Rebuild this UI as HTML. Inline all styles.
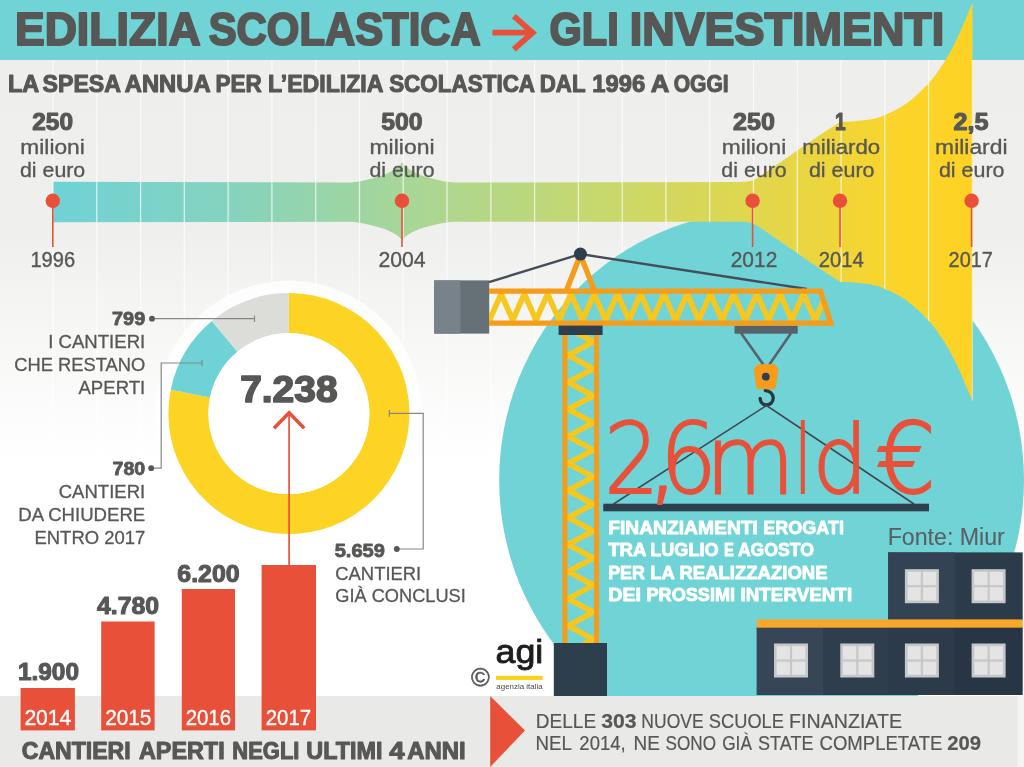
<!DOCTYPE html>
<html lang="it"><head><meta charset="utf-8"><title>Edilizia scolastica - Gli investimenti</title>
<style>
html,body{margin:0;padding:0;background:#fff;}
body{width:1024px;height:767px;overflow:hidden;}
svg{display:block;font-family:"Liberation Sans",sans-serif;}
</style></head><body>
<svg width="1024" height="767" viewBox="0 0 1024 767">
<defs>
<linearGradient id="bg" gradientUnits="userSpaceOnUse" x1="0" y1="0" x2="0" y2="767">
<stop offset="0" stop-color="#eeefec"/><stop offset="0.3" stop-color="#eff0ed"/><stop offset="0.44" stop-color="#f7f7f6"/><stop offset="0.6" stop-color="#ffffff"/><stop offset="1" stop-color="#ffffff"/>
</linearGradient>
<linearGradient id="band" gradientUnits="userSpaceOnUse" x1="53" y1="0" x2="972" y2="0">
<stop offset="0" stop-color="#6fd2d6"/><stop offset="0.2" stop-color="#86d3bd"/><stop offset="0.38" stop-color="#a7d698"/>
<stop offset="0.6" stop-color="#c8d86c"/><stop offset="0.8" stop-color="#e6d646"/><stop offset="0.93" stop-color="#fcd428"/><stop offset="1" stop-color="#fdd224"/>
</linearGradient>
<clipPath id="clipmain"><rect x="0" y="0" width="1024" height="696"/></clipPath>
</defs>
<rect width="1024" height="767" fill="#eeefec"/>
<rect width="1024" height="767" fill="url(#bg)"/>
<rect width="1024" height="60" fill="#70d4d6"/>
<path d="M53.0 60V696M96.8 60V696M140.6 60V696M184.3 60V696M228.1 60V696M271.9 60V696M315.7 60V696M359.5 60V696M403.2 60V696M447.0 60V696M490.8 60V696M534.6 60V696M578.4 60V696M622.2 60V696M665.9 60V696M709.7 60V696M753.5 60V696M797.3 60V696M841.1 60V696M884.8 60V696M928.6 60V696M972.4 60V696" stroke="#ffffff" stroke-width="1.3" fill="none" opacity="0.7"/>
<ellipse cx="761.6" cy="480" rx="262.4" ry="268.5" fill="#70d4d6" clip-path="url(#clipmain)"/>
<clipPath id="clipband"><path d="M53 181.8 L345 182.5 C358 182.5 362 180.5 368 179.5 C385 176 396 170 402 162.5 C408 170 419 176 436 179.5 C442 180.5 446 182.5 459 182.5 L740 182 C742.0 181.8 747.8 182.2 752.0 180.6 C756.2 179.0 758.9 176.9 765.4 172.6 C771.9 168.3 782.3 160.8 790.8 155.0 C799.3 149.2 808.0 143.0 816.2 137.5 C824.5 132.0 836.3 124.4 840.3 121.8 C842.6 121.7 849.1 121.7 854.4 121.2 C859.7 120.7 866.9 120.0 872.0 119.0 C877.1 118.0 879.4 117.4 884.9 114.9 C890.4 112.4 898.0 109.4 905.2 104.2 C912.4 99.0 921.6 90.7 928.0 83.9 C934.4 77.1 938.6 70.7 943.3 63.5 C948.0 56.3 952.2 48.3 956.0 40.7 C959.8 33.1 963.5 24.2 966.2 17.8 C969.0 11.4 971.5 5.1 972.5 2.5 L972.5 401.3 C971.5 398.8 969.0 392.4 966.2 386.0 C963.5 379.6 959.8 370.7 956.0 363.1 C952.2 355.5 948.0 347.5 943.3 340.3 C938.6 333.1 934.4 326.7 928.0 319.9 C921.6 313.1 912.4 304.8 905.2 299.6 C898.0 294.4 890.4 291.4 884.9 288.9 C879.4 286.4 877.1 285.9 872.0 284.8 C866.9 283.8 859.7 283.1 854.4 282.6 C849.1 282.1 842.6 282.1 840.3 282.0 C836.3 279.4 824.5 271.8 816.2 266.3 C808.0 260.8 799.3 254.7 790.8 248.8 C782.3 243.0 771.9 235.5 765.4 231.2 C758.9 226.9 756.2 224.8 752.0 223.2 C747.8 221.6 742.0 222.0 740.0 221.8 L740 221.8 L459 221.8 C446 221.8 442 223.5 436 224.5 C419 228 408 233 402 240 C396 233 385 228 368 224.5 C362 223.5 358 221.8 345 221.8 L53 222.3 Z"/></clipPath>
<path d="M53 181.8 L345 182.5 C358 182.5 362 180.5 368 179.5 C385 176 396 170 402 162.5 C408 170 419 176 436 179.5 C442 180.5 446 182.5 459 182.5 L740 182 C742.0 181.8 747.8 182.2 752.0 180.6 C756.2 179.0 758.9 176.9 765.4 172.6 C771.9 168.3 782.3 160.8 790.8 155.0 C799.3 149.2 808.0 143.0 816.2 137.5 C824.5 132.0 836.3 124.4 840.3 121.8 C842.6 121.7 849.1 121.7 854.4 121.2 C859.7 120.7 866.9 120.0 872.0 119.0 C877.1 118.0 879.4 117.4 884.9 114.9 C890.4 112.4 898.0 109.4 905.2 104.2 C912.4 99.0 921.6 90.7 928.0 83.9 C934.4 77.1 938.6 70.7 943.3 63.5 C948.0 56.3 952.2 48.3 956.0 40.7 C959.8 33.1 963.5 24.2 966.2 17.8 C969.0 11.4 971.5 5.1 972.5 2.5 L972.5 401.3 C971.5 398.8 969.0 392.4 966.2 386.0 C963.5 379.6 959.8 370.7 956.0 363.1 C952.2 355.5 948.0 347.5 943.3 340.3 C938.6 333.1 934.4 326.7 928.0 319.9 C921.6 313.1 912.4 304.8 905.2 299.6 C898.0 294.4 890.4 291.4 884.9 288.9 C879.4 286.4 877.1 285.9 872.0 284.8 C866.9 283.8 859.7 283.1 854.4 282.6 C849.1 282.1 842.6 282.1 840.3 282.0 C836.3 279.4 824.5 271.8 816.2 266.3 C808.0 260.8 799.3 254.7 790.8 248.8 C782.3 243.0 771.9 235.5 765.4 231.2 C758.9 226.9 756.2 224.8 752.0 223.2 C747.8 221.6 742.0 222.0 740.0 221.8 L740 221.8 L459 221.8 C446 221.8 442 223.5 436 224.5 C419 228 408 233 402 240 C396 233 385 228 368 224.5 C362 223.5 358 221.8 345 221.8 L53 222.3 Z" fill="url(#band)"/>
<path d="M53.0 60V696M96.8 60V696M140.6 60V696M184.3 60V696M228.1 60V696M271.9 60V696M315.7 60V696M359.5 60V696M403.2 60V696M447.0 60V696M490.8 60V696M534.6 60V696M578.4 60V696M622.2 60V696M665.9 60V696M709.7 60V696M753.5 60V696M797.3 60V696M841.1 60V696M884.8 60V696M928.6 60V696M972.4 60V696" stroke="#ffffff" stroke-width="1.3" fill="none" opacity="0.7" clip-path="url(#clipband)"/>
<text y="45.05" font-size="46.80" font-weight="bold" fill="#575756" stroke="#575756" stroke-width="2.11" stroke-linejoin="round"><tspan x="14.91" textLength="184.17" lengthAdjust="spacingAndGlyphs">EDILIZIA</tspan> <tspan x="208.71" textLength="272.07" lengthAdjust="spacingAndGlyphs">SCOLASTICA</tspan></text>
<text y="45.05" font-size="46.80" font-weight="bold" fill="#575756" stroke="#575756" stroke-width="2.11" stroke-linejoin="round"><tspan x="549.51" textLength="69.27" lengthAdjust="spacingAndGlyphs">GLI</tspan> <tspan x="629.71" textLength="314.57" lengthAdjust="spacingAndGlyphs">INVESTIMENTI</tspan></text>
<path d="M492.4 32.7H533 M513.8 16.1L532.6 32.7L513.8 49.3" stroke="#e8503a" stroke-width="5.8" fill="none" stroke-linejoin="miter"/>
<text y="92.05" font-size="24.35" font-weight="bold" fill="#575756" stroke="#575756" stroke-width="1.10" stroke-linejoin="round"><tspan x="8.03" textLength="30.34" lengthAdjust="spacingAndGlyphs">LA</tspan> <tspan x="42.53" textLength="77.64" lengthAdjust="spacingAndGlyphs">SPESA</tspan> <tspan x="124.73" textLength="84.94" lengthAdjust="spacingAndGlyphs">ANNUA</tspan> <tspan x="215.53" textLength="46.24" lengthAdjust="spacingAndGlyphs">PER</tspan> <tspan x="267.93" textLength="114.64" lengthAdjust="spacingAndGlyphs">L’EDILIZIA</tspan> <tspan x="389.13" textLength="145.14" lengthAdjust="spacingAndGlyphs">SCOLASTICA</tspan> <tspan x="539.73" textLength="45.44" lengthAdjust="spacingAndGlyphs">DAL</tspan> <tspan x="592.33" textLength="52.94" lengthAdjust="spacingAndGlyphs">1996</tspan> <tspan x="650.83" textLength="17.64" lengthAdjust="spacingAndGlyphs">A</tspan> <tspan x="673.63" textLength="55.04" lengthAdjust="spacingAndGlyphs">OGGI</tspan></text>
<text x="32.21" y="130.23" font-size="23.13" font-weight="bold" fill="#575756" stroke="#575756" stroke-width="1.04" stroke-linejoin="round" textLength="40.77" lengthAdjust="spacingAndGlyphs">250</text>
<text x="20.34" y="154.43" font-size="20.80" fill="#575756" stroke="#575756" stroke-width="0.33" stroke-linejoin="round" textLength="64.52" lengthAdjust="spacingAndGlyphs">milioni</text>
<text x="19.94" y="176.63" font-size="20.80" fill="#575756" stroke="#575756" stroke-width="0.33" stroke-linejoin="round" textLength="65.32" lengthAdjust="spacingAndGlyphs">di euro</text>
<text x="381.36" y="130.23" font-size="23.13" font-weight="bold" fill="#575756" stroke="#575756" stroke-width="1.04" stroke-linejoin="round" textLength="41.27" lengthAdjust="spacingAndGlyphs">500</text>
<text x="369.44" y="154.43" font-size="20.80" fill="#575756" stroke="#575756" stroke-width="0.33" stroke-linejoin="round" textLength="65.12" lengthAdjust="spacingAndGlyphs">milioni</text>
<text x="369.44" y="176.63" font-size="20.80" fill="#575756" stroke="#575756" stroke-width="0.33" stroke-linejoin="round" textLength="65.12" lengthAdjust="spacingAndGlyphs">di euro</text>
<text x="733.06" y="130.23" font-size="23.13" font-weight="bold" fill="#575756" stroke="#575756" stroke-width="1.04" stroke-linejoin="round" textLength="41.87" lengthAdjust="spacingAndGlyphs">250</text>
<text x="721.74" y="154.43" font-size="20.80" fill="#575756" stroke="#575756" stroke-width="0.33" stroke-linejoin="round" textLength="64.52" lengthAdjust="spacingAndGlyphs">milioni</text>
<text x="721.39" y="176.63" font-size="20.80" fill="#575756" stroke="#575756" stroke-width="0.33" stroke-linejoin="round" textLength="65.22" lengthAdjust="spacingAndGlyphs">di euro</text>
<text x="835.06" y="130.28" font-size="23.13" font-weight="bold" fill="#575756" stroke="#575756" stroke-width="1.04" stroke-linejoin="round" textLength="10.67" lengthAdjust="spacingAndGlyphs">1</text>
<text x="802.34" y="154.43" font-size="20.80" fill="#575756" stroke="#575756" stroke-width="0.33" stroke-linejoin="round" textLength="77.82" lengthAdjust="spacingAndGlyphs">miliardo</text>
<text x="808.94" y="176.63" font-size="20.80" fill="#575756" stroke="#575756" stroke-width="0.33" stroke-linejoin="round" textLength="65.62" lengthAdjust="spacingAndGlyphs">di euro</text>
<text x="953.56" y="130.23" font-size="23.13" font-weight="bold" fill="#575756" stroke="#575756" stroke-width="1.04" stroke-linejoin="round" textLength="35.07" lengthAdjust="spacingAndGlyphs">2,5</text>
<text x="935.14" y="154.43" font-size="20.80" fill="#575756" stroke="#575756" stroke-width="0.33" stroke-linejoin="round" textLength="72.42" lengthAdjust="spacingAndGlyphs">miliardi</text>
<text x="938.94" y="176.63" font-size="20.80" fill="#575756" stroke="#575756" stroke-width="0.33" stroke-linejoin="round" textLength="65.62" lengthAdjust="spacingAndGlyphs">di euro</text>
<path d="M52.8 201V247" stroke="#e8503a" stroke-width="1.6"/><circle cx="52.8" cy="200.8" r="7.2" fill="#e8503a"/>
<path d="M402.0 201V247" stroke="#e8503a" stroke-width="1.6"/><circle cx="402.0" cy="200.8" r="7.2" fill="#e8503a"/>
<path d="M752.6 201V247" stroke="#e8503a" stroke-width="1.6"/><circle cx="752.6" cy="200.8" r="7.2" fill="#e8503a"/>
<path d="M840.0 201V247" stroke="#e8503a" stroke-width="1.6"/><circle cx="840.0" cy="200.8" r="7.2" fill="#e8503a"/>
<path d="M971.6 201V247" stroke="#e8503a" stroke-width="1.6"/><circle cx="971.6" cy="200.8" r="7.2" fill="#e8503a"/>
<text x="30.41" y="267.42" font-size="21.95" fill="#575756" stroke="#575756" stroke-width="0.35" stroke-linejoin="round" textLength="44.69" lengthAdjust="spacingAndGlyphs">1996</text>
<text x="378.41" y="267.42" font-size="21.95" fill="#575756" stroke="#575756" stroke-width="0.35" stroke-linejoin="round" textLength="47.19" lengthAdjust="spacingAndGlyphs">2004</text>
<text x="730.71" y="267.42" font-size="21.95" fill="#575756" stroke="#575756" stroke-width="0.35" stroke-linejoin="round" textLength="46.69" lengthAdjust="spacingAndGlyphs">2012</text>
<text x="818.71" y="267.42" font-size="21.95" fill="#575756" stroke="#575756" stroke-width="0.35" stroke-linejoin="round" textLength="45.19" lengthAdjust="spacingAndGlyphs">2014</text>
<text x="948.61" y="267.42" font-size="21.95" fill="#575756" stroke="#575756" stroke-width="0.35" stroke-linejoin="round" textLength="44.29" lengthAdjust="spacingAndGlyphs">2017</text>
<circle cx="288.9" cy="413.6" r="133" fill="#ffffff" opacity="0.8"/>
<path d="M288.90 293.10A120.5 120.5 0 1 1 170.80 389.65L210.01 397.60A80.5 80.5 0 1 0 288.90 333.10Z" fill="#fdd324"/>
<path d="M170.80 389.65A120.5 120.5 0 0 1 211.86 320.94L237.44 351.70A80.5 80.5 0 0 0 210.01 397.60Z" fill="#6fd2d6"/>
<path d="M211.86 320.94A120.5 120.5 0 0 1 288.90 293.10L288.90 333.10A80.5 80.5 0 0 0 237.44 351.70Z" fill="#dcddd9"/>
<circle cx="288.9" cy="413.6" r="80.5" fill="#ffffff"/>
<text x="240.18" y="401.76" font-size="37.14" font-weight="bold" fill="#575756" stroke="#575756" stroke-width="1.67" stroke-linejoin="round" textLength="97.34" lengthAdjust="spacingAndGlyphs">7.238</text>
<path d="M289.1 412V566" stroke="#e8503a" stroke-width="1.7"/><path d="M274 428.3L289.1 412.8L304.2 428.3" stroke="#e8503a" stroke-width="3.5" fill="none"/>
<g stroke="#858687" stroke-width="1.2" fill="none">
<path d="M152 318.7H254.5M254.5 315.5V322"/>
<path d="M151.2 468.2H161.2V363H202M202 360V366"/>
<path d="M389.3 413.4H423.2V549H397M389.3 410V417"/>
</g>
<circle cx="152.0" cy="318.7" r="2.9" fill="#575756"/>
<circle cx="151.2" cy="468.2" r="2.9" fill="#575756"/>
<circle cx="396.8" cy="549.0" r="2.9" fill="#575756"/>
<text x="112.08" y="325.08" font-size="18.78" font-weight="bold" fill="#575756" stroke="#575756" stroke-width="0.84" stroke-linejoin="round" textLength="33.13" lengthAdjust="spacingAndGlyphs">799</text>
<text x="48.24" y="348.10" font-size="18.98" fill="#575756" stroke="#575756" stroke-width="0.30" stroke-linejoin="round" textLength="96.97" lengthAdjust="spacingAndGlyphs">I CANTIERI</text>
<text x="14.19" y="371.25" font-size="18.98" fill="#575756" stroke="#575756" stroke-width="0.30" stroke-linejoin="round" textLength="131.02" lengthAdjust="spacingAndGlyphs">CHE RESTANO</text>
<text x="78.49" y="393.95" font-size="18.98" fill="#575756" stroke="#575756" stroke-width="0.30" stroke-linejoin="round" textLength="66.72" lengthAdjust="spacingAndGlyphs">APERTI</text>
<text x="112.48" y="475.38" font-size="18.78" font-weight="bold" fill="#575756" stroke="#575756" stroke-width="0.84" stroke-linejoin="round" textLength="32.73" lengthAdjust="spacingAndGlyphs">780</text>
<text x="58.74" y="498.10" font-size="18.98" fill="#575756" stroke="#575756" stroke-width="0.30" stroke-linejoin="round" textLength="86.47" lengthAdjust="spacingAndGlyphs">CANTIERI</text>
<text x="18.24" y="521.10" font-size="18.98" fill="#575756" stroke="#575756" stroke-width="0.30" stroke-linejoin="round" textLength="126.97" lengthAdjust="spacingAndGlyphs">DA CHIUDERE</text>
<text x="34.49" y="543.60" font-size="18.98" fill="#575756" stroke="#575756" stroke-width="0.30" stroke-linejoin="round" textLength="110.72" lengthAdjust="spacingAndGlyphs">ENTRO 2017</text>
<text x="334.68" y="556.98" font-size="18.78" font-weight="bold" fill="#575756" stroke="#575756" stroke-width="0.84" stroke-linejoin="round" textLength="50.23" lengthAdjust="spacingAndGlyphs">5.659</text>
<text x="335.29" y="579.75" font-size="18.98" fill="#575756" stroke="#575756" stroke-width="0.30" stroke-linejoin="round" textLength="85.92" lengthAdjust="spacingAndGlyphs">CANTIERI</text>
<text x="335.29" y="602.35" font-size="18.98" fill="#575756" stroke="#575756" stroke-width="0.30" stroke-linejoin="round" textLength="130.52" lengthAdjust="spacingAndGlyphs">GIÀ CONCLUSI</text>
<rect x="0" y="696" width="1024" height="71" fill="#f4f5f3"/><rect x="0" y="696" width="1017.5" height="71" fill="#e9eae7"/>
<rect x="20.6" y="688.0" width="54.3" height="42.4" fill="#e8503a"/>
<rect x="101.2" y="621.5" width="53.4" height="108.9" fill="#e8503a"/>
<rect x="181.8" y="589.0" width="53.2" height="141.4" fill="#e8503a"/>
<rect x="261.6" y="565.0" width="54.4" height="165.4" fill="#e8503a"/>
<text x="17.94" y="679.76" font-size="24.08" font-weight="bold" fill="#575756" stroke="#575756" stroke-width="1.08" stroke-linejoin="round" textLength="61.02" lengthAdjust="spacingAndGlyphs">1.900</text>
<text x="97.04" y="614.06" font-size="24.08" font-weight="bold" fill="#575756" stroke="#575756" stroke-width="1.08" stroke-linejoin="round" textLength="62.12" lengthAdjust="spacingAndGlyphs">4.780</text>
<text x="177.34" y="581.66" font-size="24.08" font-weight="bold" fill="#575756" stroke="#575756" stroke-width="1.08" stroke-linejoin="round" textLength="62.32" lengthAdjust="spacingAndGlyphs">6.200</text>
<text x="24.38" y="724.52" font-size="22.95" fill="#ffffff" stroke="#ffffff" stroke-width="0.37" stroke-linejoin="round" textLength="46.99" lengthAdjust="spacingAndGlyphs">2014</text>
<text x="105.13" y="724.52" font-size="22.95" fill="#ffffff" stroke="#ffffff" stroke-width="0.37" stroke-linejoin="round" textLength="46.24" lengthAdjust="spacingAndGlyphs">2015</text>
<text x="185.63" y="724.52" font-size="22.95" fill="#ffffff" stroke="#ffffff" stroke-width="0.37" stroke-linejoin="round" textLength="45.49" lengthAdjust="spacingAndGlyphs">2016</text>
<text x="265.78" y="724.52" font-size="22.95" fill="#ffffff" stroke="#ffffff" stroke-width="0.37" stroke-linejoin="round" textLength="45.34" lengthAdjust="spacingAndGlyphs">2017</text>
<text y="758.77" font-size="23.67" font-weight="bold" fill="#575756" stroke="#575756" stroke-width="1.07" stroke-linejoin="round"><tspan x="21.75" textLength="108.90" lengthAdjust="spacingAndGlyphs">CANTIERI</tspan> <tspan x="138.95" textLength="85.70" lengthAdjust="spacingAndGlyphs">APERTI</tspan> <tspan x="232.35" textLength="67.10" lengthAdjust="spacingAndGlyphs">NEGLI</tspan> <tspan x="306.35" textLength="76.30" lengthAdjust="spacingAndGlyphs">ULTIMI</tspan> <tspan x="389.35" textLength="15.30" lengthAdjust="spacingAndGlyphs">4</tspan> <tspan x="407.15" textLength="58.50" lengthAdjust="spacingAndGlyphs">ANNI</tspan></text>
<path d="M490.2 696L525 730.5L490.2 767Z" fill="#e8503a"/>
<text y="728.30" font-size="20.72" fill="#575756" stroke="#575756" stroke-width="0.20" stroke-linejoin="round"><tspan x="535.87" textLength="60.25" lengthAdjust="spacingAndGlyphs">DELLE</tspan> <tspan x="601.26" font-weight="bold" textLength="35.37" lengthAdjust="spacingAndGlyphs">303</tspan> <tspan x="641.37" textLength="62.25" lengthAdjust="spacingAndGlyphs">NUOVE</tspan> <tspan x="708.87" textLength="75.05" lengthAdjust="spacingAndGlyphs">SCUOLE</tspan> <tspan x="789.07" textLength="112.95" lengthAdjust="spacingAndGlyphs">FINANZIATE</tspan></text>
<text y="750.40" font-size="20.72" fill="#575756" stroke="#575756" stroke-width="0.20" stroke-linejoin="round"><tspan x="535.57" textLength="35.75" lengthAdjust="spacingAndGlyphs">NEL</tspan> <tspan x="579.37" textLength="46.25" lengthAdjust="spacingAndGlyphs">2014,</tspan> <tspan x="633.57" textLength="26.35" lengthAdjust="spacingAndGlyphs">NE</tspan> <tspan x="665.57" textLength="50.45" lengthAdjust="spacingAndGlyphs">SONO</tspan> <tspan x="722.17" textLength="29.75" lengthAdjust="spacingAndGlyphs">GIÀ</tspan> <tspan x="758.07" textLength="55.35" lengthAdjust="spacingAndGlyphs">STATE</tspan> <tspan x="819.57" textLength="122.85" lengthAdjust="spacingAndGlyphs">COMPLETATE</tspan> <tspan x="947.16" font-weight="bold" textLength="33.77" lengthAdjust="spacingAndGlyphs">209</tspan></text>
<text x="480.4" y="686" font-size="25.5" text-anchor="middle" fill="#575756" stroke="#575756" stroke-width="0.5">©</text>
<text x="495.57" y="663.05" font-size="33.80" fill="#1d1d1b" stroke="#1d1d1b" stroke-width="0.90" stroke-linejoin="round" textLength="47.77" lengthAdjust="spacingAndGlyphs">agi</text>
<rect x="496" y="675.8" width="46.6" height="4.1" fill="#fcd116"/>
<text x="496.33" y="689.20" font-size="7.80" fill="#4a4a49" textLength="46.35" lengthAdjust="spacingAndGlyphs">agenzia italia</text>
<rect x="434.2" y="280.4" width="55" height="53.2" fill="#657077"/><rect x="434.2" y="280.4" width="26.2" height="53.2" fill="#77828b"/>
<path d="M489 282.2L580.4 254.1L806.6 289" stroke="#434e59" stroke-width="2.4" fill="none"/>
<clipPath id="cj"><path d="M489 288.5H819.3L833 325.8H489Z"/></clipPath>
<path d="M454.6 293.8 L466.2 320.2 L477.9 293.8 L489.5 320.2 L501.1 293.8 L512.7 320.2 L524.4 293.8 L536.0 320.2 L547.6 293.8 L559.2 320.2 L570.9 293.8 L582.5 320.2 L594.1 293.8 L605.7 320.2 L617.4 293.8 L629.0 320.2 L640.6 293.8 L652.2 320.2 L663.9 293.8 L675.5 320.2 L687.1 293.8 L698.7 320.2 L710.4 293.8 L722.0 320.2 L733.6 293.8 L745.2 320.2 L756.9 293.8 L768.5 320.2 L780.1 293.8 L791.7 320.2 L803.4 293.8 L815.0 320.2 L826.6 293.8 L838.2 320.2 L849.9 293.8 L861.5 320.2" stroke="#f6c71f" stroke-width="5.6" fill="none" stroke-linejoin="miter" clip-path="url(#cj)"/>
<path d="M489 291.1H820.5L831 323.2H489" stroke="#f59c1a" stroke-width="5.2" fill="none" stroke-linejoin="miter"/>
<path d="M566.6 290L580.4 255L594.2 290" stroke="#f59c1a" stroke-width="5.4" fill="none" stroke-linejoin="round"/>
<circle cx="580.4" cy="254.1" r="6.5" fill="#2d3e4d"/>
<clipPath id="ct"><rect x="562" y="333" width="38" height="312"/></clipPath>
<path d="M593.2 314.6 L568.2 328.2 L593.2 341.7 L568.2 355.2 L593.2 368.7 L568.2 382.3 L593.2 395.8 L568.2 409.3 L593.2 422.8 L568.2 436.4 L593.2 449.9 L568.2 463.4 L593.2 476.9 L568.2 490.5 L593.2 504.0 L568.2 517.5 L593.2 531.0 L568.2 544.6 L593.2 558.1 L568.2 571.6 L593.2 585.1 L568.2 598.7 L593.2 612.2 L568.2 625.7 L593.2 639.2 L568.2 652.8 L593.2 666.3" stroke="#f6c71f" stroke-width="5.6" fill="none" clip-path="url(#ct)"/>
<path d="M564.9 333V645M596.5 333V645" stroke="#f59c1a" stroke-width="5" fill="none"/>
<rect x="558.6" y="325.6" width="44" height="9.4" fill="#2d3e4d"/>
<rect x="553.8" y="643" width="53.2" height="53" fill="#2d3e4d"/>
<rect x="734.5" y="325.9" width="63.2" height="7.8" fill="#58626b"/>
<path d="M741 333L763.3 364.5M791.1 333L769.4 364.5" stroke="#58626b" stroke-width="2.6" fill="none"/>
<path d="M760.2 364.2H772.8Q774.6 364.2 775.8 365.4L777.6 367.6Q778.5 368.7 778.3 370.2L776 386.3Q775.6 389.2 772.6 389.2H759.6Q756.6 389.2 756.2 386.3L753.9 370.2Q753.7 368.7 754.6 367.6L756.4 365.4Q757.6 364.2 760.2 364.2Z" fill="#f59c1a"/>
<circle cx="765.8" cy="376.7" r="3.9" fill="#2d3e4d"/>
<path d="M765.2 390.6C770 390.6 773.2 394 773.2 398.2C773.2 402 770.3 404.9 766.6 404.9C763 404.9 760.3 402.2 760.1 398.4" stroke="#2b3640" stroke-width="3.3" fill="none" stroke-linecap="round"/>
<path d="M613.5 504L766.5 405.5L914 504" stroke="#3f4a55" stroke-width="1.6" fill="none"/>
<rect x="603.3" y="503.7" width="325.7" height="7.6" fill="#2d3e4d"/>
<text y="493.2" font-family="'DejaVu Sans','Liberation Sans',sans-serif" font-weight="200" font-size="98.5" fill="#e8503a" stroke="#e8503a" stroke-width="2"><tspan x="604.2" textLength="55.0" lengthAdjust="spacingAndGlyphs">2</tspan><tspan x="646.0" textLength="34.0" lengthAdjust="spacingAndGlyphs">,</tspan><tspan x="660.0" textLength="57.0" lengthAdjust="spacingAndGlyphs">6</tspan><tspan x="705.5" textLength="89.5" lengthAdjust="spacingAndGlyphs" font-size="95">m</tspan><tspan x="794.5" textLength="17.0" lengthAdjust="spacingAndGlyphs" font-size="95">l</tspan><tspan x="812.6" textLength="55.5" lengthAdjust="spacingAndGlyphs" font-size="95">d</tspan> <tspan x="875.5" textLength="60.5" lengthAdjust="spacingAndGlyphs">€</tspan></text>
<text y="533.57" font-size="19.05" font-weight="bold" fill="#ffffff" stroke="#ffffff" stroke-width="0.86" stroke-linejoin="round"><tspan x="608.18" textLength="149.75" lengthAdjust="spacingAndGlyphs">FINANZIAMENTI</tspan> <tspan x="763.28" textLength="80.65" lengthAdjust="spacingAndGlyphs">EROGATI</tspan></text>
<text y="556.07" font-size="19.05" font-weight="bold" fill="#ffffff" stroke="#ffffff" stroke-width="0.86" stroke-linejoin="round"><tspan x="608.18" textLength="37.55" lengthAdjust="spacingAndGlyphs">TRA</tspan> <tspan x="650.28" textLength="68.25" lengthAdjust="spacingAndGlyphs">LUGLIO</tspan> <tspan x="723.88" textLength="9.95" lengthAdjust="spacingAndGlyphs">E</tspan> <tspan x="737.88" textLength="76.05" lengthAdjust="spacingAndGlyphs">AGOSTO</tspan></text>
<text y="578.57" font-size="19.05" font-weight="bold" fill="#ffffff" stroke="#ffffff" stroke-width="0.86" stroke-linejoin="round"><tspan x="608.18" textLength="36.75" lengthAdjust="spacingAndGlyphs">PER</tspan> <tspan x="650.28" textLength="23.85" lengthAdjust="spacingAndGlyphs">LA</tspan> <tspan x="679.48" textLength="148.05" lengthAdjust="spacingAndGlyphs">REALIZZAZIONE</tspan></text>
<text y="601.07" font-size="19.05" font-weight="bold" fill="#ffffff" stroke="#ffffff" stroke-width="0.86" stroke-linejoin="round"><tspan x="608.18" textLength="32.95" lengthAdjust="spacingAndGlyphs">DEI</tspan> <tspan x="646.48" textLength="88.65" lengthAdjust="spacingAndGlyphs">PROSSIMI</tspan> <tspan x="740.48" textLength="111.65" lengthAdjust="spacingAndGlyphs">INTERVENTI</tspan></text>
<text x="887.73" y="544.95" font-size="23.33" fill="#5a5f63" stroke="#5a5f63" stroke-width="0.10" stroke-linejoin="round" textLength="117.03" lengthAdjust="spacingAndGlyphs">Fonte: Miur</text>
<rect x="888.2" y="552.4" width="134.5" height="68" fill="#2c3b4a"/><rect x="888.2" y="552.4" width="66.5" height="68" fill="#334353"/>
<rect x="756.9" y="627" width="265.8" height="68" fill="#273544"/><rect x="756.9" y="627" width="198" height="68" fill="#2c3a49"/><rect x="756.9" y="627" width="131.5" height="68" fill="#2f3e4d"/><rect x="756.9" y="627" width="66.3" height="68" fill="#374656"/>
<rect x="756.9" y="619.4" width="265.8" height="8.3" fill="#f9a72b"/>
<rect x="904.9" y="569.2" width="34" height="34" fill="#c6c7c9"/>
<rect x="907.60" y="571.90" width="13.20" height="13.20" fill="#e4e4e4"/>
<rect x="907.60" y="587.30" width="13.20" height="13.20" fill="#e4e4e4"/>
<rect x="923.00" y="571.90" width="13.20" height="13.20" fill="#e4e4e4"/>
<rect x="923.00" y="587.30" width="13.20" height="13.20" fill="#e4e4e4"/>
<rect x="971.6" y="569.2" width="34" height="34" fill="#c6c7c9"/>
<rect x="974.30" y="571.90" width="13.20" height="13.20" fill="#e4e4e4"/>
<rect x="974.30" y="587.30" width="13.20" height="13.20" fill="#e4e4e4"/>
<rect x="989.70" y="571.90" width="13.20" height="13.20" fill="#e4e4e4"/>
<rect x="989.70" y="587.30" width="13.20" height="13.20" fill="#e4e4e4"/>
<rect x="774.0" y="643.5" width="34" height="34" fill="#c6c7c9"/>
<rect x="776.70" y="646.20" width="13.20" height="13.20" fill="#e4e4e4"/>
<rect x="776.70" y="661.60" width="13.20" height="13.20" fill="#e4e4e4"/>
<rect x="792.10" y="646.20" width="13.20" height="13.20" fill="#e4e4e4"/>
<rect x="792.10" y="661.60" width="13.20" height="13.20" fill="#e4e4e4"/>
<rect x="840.3" y="643.5" width="34" height="34" fill="#c6c7c9"/>
<rect x="843.00" y="646.20" width="13.20" height="13.20" fill="#e4e4e4"/>
<rect x="843.00" y="661.60" width="13.20" height="13.20" fill="#e4e4e4"/>
<rect x="858.40" y="646.20" width="13.20" height="13.20" fill="#e4e4e4"/>
<rect x="858.40" y="661.60" width="13.20" height="13.20" fill="#e4e4e4"/>
<rect x="904.9" y="643.5" width="34" height="34" fill="#c6c7c9"/>
<rect x="907.60" y="646.20" width="13.20" height="13.20" fill="#e4e4e4"/>
<rect x="907.60" y="661.60" width="13.20" height="13.20" fill="#e4e4e4"/>
<rect x="923.00" y="646.20" width="13.20" height="13.20" fill="#e4e4e4"/>
<rect x="923.00" y="661.60" width="13.20" height="13.20" fill="#e4e4e4"/>
<rect x="971.6" y="643.5" width="34" height="34" fill="#c6c7c9"/>
<rect x="974.30" y="646.20" width="13.20" height="13.20" fill="#e4e4e4"/>
<rect x="974.30" y="661.60" width="13.20" height="13.20" fill="#e4e4e4"/>
<rect x="989.70" y="646.20" width="13.20" height="13.20" fill="#e4e4e4"/>
<rect x="989.70" y="661.60" width="13.20" height="13.20" fill="#e4e4e4"/>
</svg></body></html>
